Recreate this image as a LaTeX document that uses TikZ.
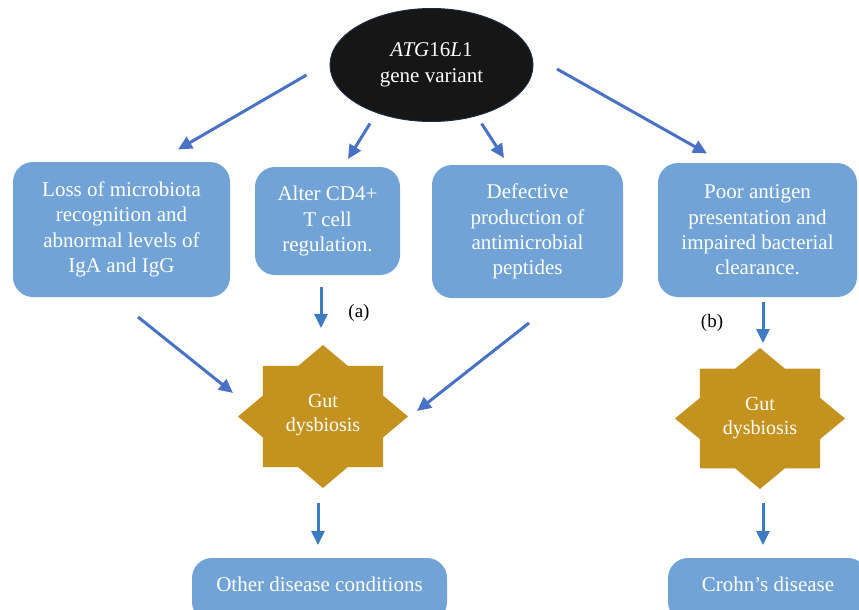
\documentclass[tikz,border=0pt]{standalone}
\usepackage{fontspec}
\setmainfont{Liberation Serif}
\usetikzlibrary{arrows.meta,shapes.geometric}

\definecolor{boxblue}{HTML}{71A3D6}
\definecolor{stargold}{HTML}{C4921F}
\definecolor{arrowblue}{HTML}{4A72C4}
\definecolor{downblue}{HTML}{3D7CC3}
\definecolor{ovalblack}{HTML}{161616}
\definecolor{ovaledge}{HTML}{1F2A44}

\tikzset{
  box/.style={rectangle, rounded corners=20pt, fill=boxblue, text=white,
    align=center, inner sep=0pt, font=\fontsize{21}{25.3}\selectfont},
  oval/.style={ellipse, fill=ovalblack, draw=ovaledge, line width=1pt,
    text=white, align=center, inner sep=0pt,
    font=\fontsize{21}{26}\selectfont},
  startext/.style={text=white, align=center, inner sep=0pt,
    font=\fontsize{20}{24.5}\selectfont},
  link/.style={draw=arrowblue, line width=3pt,
    -{Triangle[length=14pt,width=13pt]}},
  drop/.style={link, draw=downblue},
  tag/.style={text=black, inner sep=0pt, font=\fontsize{19}{22}\selectfont}
}

\begin{document}
\begin{tikzpicture}[x=1pt, y=-1pt]
\useasboundingbox (0,0) rectangle (859,610);

% eight-pointed stars (square over diamond)
\begin{scope}[shift={(323,416.5)}, xscale=85, yscale=71.5]
  \fill[stargold] (0:1) \foreach \a in {0,45,...,315}{ -- (\a+22.5:0.765) -- (\a+45:1)} -- cycle;
\end{scope}
\begin{scope}[shift={(760,418.5)}, xscale=85, yscale=70.5]
  \fill[stargold] (0:1) \foreach \a in {0,45,...,315}{ -- (\a+22.5:0.765) -- (\a+45:1)} -- cycle;
\end{scope}

% gene variant
\node[oval, minimum width=203pt, minimum height=113pt] (gene) at (431.5,65)
  {\textit{ATG}16\textit{L}1\\gene variant};

% mechanism boxes
\node[box, minimum width=217pt, minimum height=135pt] (loss) at (121.5,229.5)
  {Loss of microbiota\\recognition and\\abnormal levels of\\IgA and IgG};
\node[box, minimum width=145pt, minimum height=108pt] (cd4) at (327.5,221)
  {Alter CD4+\\T cell\\regulation.};
\node[box, minimum width=191pt, minimum height=133pt] (amp) at (527.5,231.5)
  {Defective\\production of\\antimicrobial\\peptides};
\node[box, minimum width=199pt, minimum height=134pt] (apc) at (757.5,230)
  {Poor antigen\\presentation and\\impaired bacterial\\clearance.};

% dysbiosis labels
\node[startext] (gut) at (323,415) {Gut\\dysbiosis};
\node[startext] (gutb) at (760,418) {Gut\\dysbiosis};

% outcome boxes
\node[box, minimum width=255pt, minimum height=64pt] (other) at (319.5,590)
  {\raisebox{12pt}{Other disease conditions}};
\node[box, minimum width=200pt, minimum height=64pt] (crohn) at (768,590)
  {\raisebox{12pt}{Crohn’s disease}};

% branch labels
\node[tag] (tagA) at (359,313) {(a)};
\node[tag] (tagB) at (712,323) {(b)};

% connector ends
\coordinate (g1) at (306.5,75);   \coordinate (l1) at (178,149.5);
\coordinate (g2) at (370,123.5);  \coordinate (c2) at (348,159);
\coordinate (g3) at (481.5,123.5);\coordinate (a3) at (504,158);
\coordinate (g4) at (557,69);     \coordinate (p4) at (707,153.5);
\coordinate (l5) at (138,317);    \coordinate (d5) at (233,393);
\coordinate (c6) at (321,287);    \coordinate (d6) at (321,328);
\coordinate (a7) at (529,323);    \coordinate (d7) at (417,411);
\coordinate (p8) at (763,302);    \coordinate (e8) at (763,343);
\coordinate (d9) at (318,503);    \coordinate (o9) at (318,545);
\coordinate (e10) at (763,503);   \coordinate (c10) at (763,545);

\draw[link] (g1) -- (l1);
\draw[link] (g2) -- (c2);
\draw[link] (g3) -- (a3);
\draw[link] (g4) -- (p4);
\draw[link] (l5) -- (d5);
\draw[drop] (c6) -- (d6);
\draw[link] (a7) -- (d7);
\draw[drop] (p8) -- (e8);
\draw[drop] (d9) -- (o9);
\draw[drop] (e10) -- (c10);
\end{tikzpicture}
\end{document}
